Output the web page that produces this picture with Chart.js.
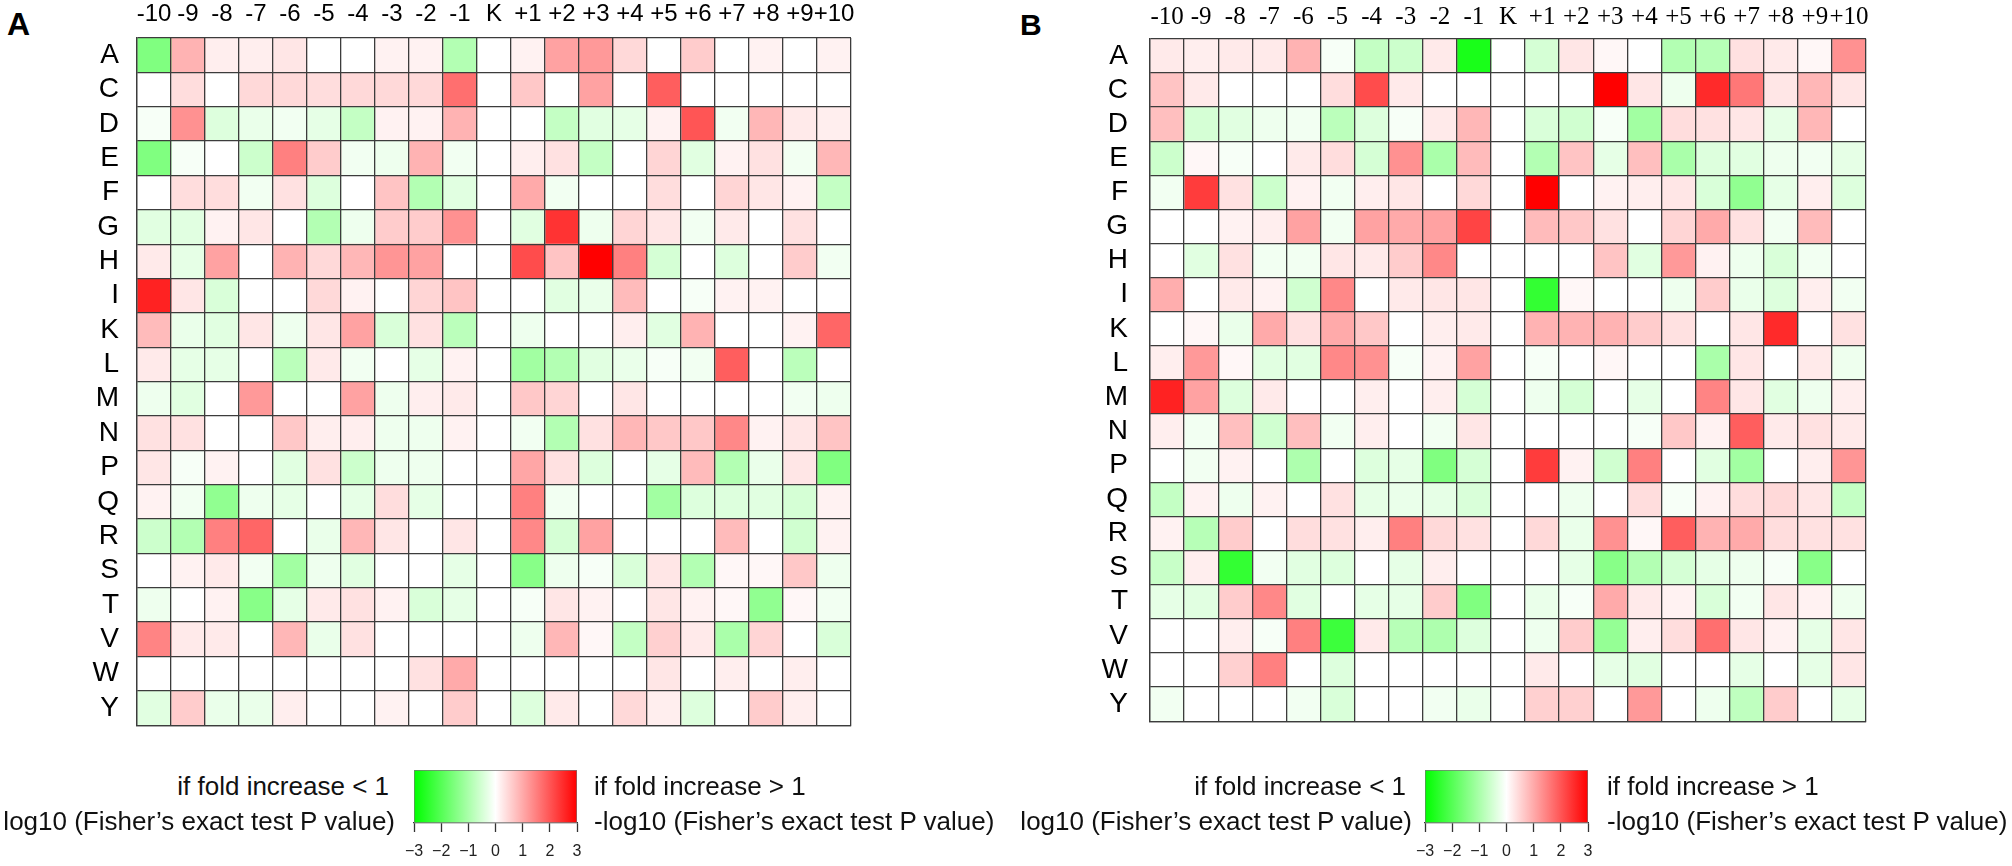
<!DOCTYPE html>
<html>
<head>
<meta charset="utf-8">
<title>Fisher's exact test heatmaps</title>
<script src="https://cdn.jsdelivr.net/npm/chart.js@4.4.1/dist/chart.umd.min.js"></script>
<style>
  body { margin: 0; width: 2012px; height: 866px; background: #fff; position: relative; overflow: hidden;
         font-family: "Liberation Sans", Arial, sans-serif; color: #111; }
  canvas, .txt, .panel { position: absolute; }
  .panel { font-weight: bold; color: #000; }
  .txt { font-size: 26px; line-height: 35px; white-space: nowrap; }
  .right { text-align: right; }
</style>
</head>
<body>
<div class="panel" style="left:7px;top:8px;font-size:32px;line-height:32px">A</div>
<div class="panel" style="left:1020px;top:10px;font-size:30px;line-height:30px">B</div>

<canvas id="heatA" width="1006" height="760" style="left:0;top:0"></canvas>
<canvas id="heatB" width="1006" height="760" style="left:1006px;top:0"></canvas>

<canvas id="barA" width="203" height="101" style="left:394px;top:769px"></canvas>
<canvas id="barB" width="203" height="101" style="left:1405px;top:769px"></canvas>

<div class="txt right" style="left:0;width:389px;top:769px">if fold increase &lt; 1</div>
<div class="txt right" style="left:0;width:395px;top:804px">log10 (Fisher’s exact test P value)</div>
<div class="txt" style="left:594px;top:769px">if fold increase &gt; 1</div>
<div class="txt" style="left:594px;top:804px">-log10 (Fisher’s exact test P value)</div>

<div class="txt right" style="left:1006px;width:400px;top:769px">if fold increase &lt; 1</div>
<div class="txt right" style="left:1006px;width:406px;top:804px">log10 (Fisher’s exact test P value)</div>
<div class="txt" style="left:1607px;top:769px">if fold increase &gt; 1</div>
<div class="txt" style="left:1607px;top:804px">-log10 (Fisher’s exact test P value)</div>

<script>
// positions around the central K, and the residues
const colLabels = ['-10', '-9', '-8', '-7', '-6', '-5', '-4', '-3', '-2', '-1', 'K',
                   '+1', '+2', '+3', '+4', '+5', '+6', '+7', '+8', '+9', '+10'];
const rowLabels = ['A', 'C', 'D', 'E', 'F', 'G', 'H', 'I', 'K', 'L',
                   'M', 'N', 'P', 'Q', 'R', 'S', 'T', 'V', 'W', 'Y'];
const legendTicks = [-3, -2, -1, 0, 1, 2, 3];

// signed log10 P (negative = depleted, positive = enriched), one row per residue
const valuesA = [
  [-1.5, 0.9, 0.2, 0.2, 0.3, 0, 0, 0.15, 0.15, -0.9, 0, 0.15, 1.1, 1.2, 0.45, 0, 0.6, 0, 0.15, 0, 0.15],           // A
  [0, 0.4, 0, 0.45, 0.45, 0.4, 0.45, 0.45, 0.45, 1.7, 0, 0.65, 0, 1.1, 0, 1.9, 0, 0, 0, 0, 0],                     // C
  [-0.1, 1.3, -0.4, -0.25, -0.15, -0.3, -0.7, 0.15, 0.15, 0.9, 0, 0, -0.7, -0.35, -0.3, 0.15, 2.0, -0.15, 0.85, 0.25, 0.2], // D
  [-1.5, -0.1, 0, -0.6, 1.5, 0.6, -0.15, -0.2, 0.9, -0.15, 0, 0.2, 0.35, -0.7, 0, 0.5, -0.35, 0.15, 0.35, -0.15, 0.85],   // E
  [0, 0.4, 0.4, -0.15, 0.35, -0.4, 0, 0.7, -0.9, -0.35, 0, 1.0, -0.15, 0, 0, 0.4, 0, 0.5, 0.3, 0.15, -0.7],        // F
  [-0.35, -0.35, 0.15, 0.3, 0, -0.9, -0.2, 0.6, 0.6, 1.3, 0, -0.35, 2.4, -0.2, 0.5, 0.3, -0.15, 0.25, 0, 0.35, 0], // G
  [0.25, -0.3, 1.1, 0, 0.9, 0.45, 0.85, 1.25, 1.1, 0, 0, 2.1, 0.7, 3.0, 1.5, -0.5, 0, -0.4, 0, 0.6, -0.15],         // H
  [2.6, 0.3, -0.45, 0, 0, 0.45, 0.15, 0, 0.5, 0.7, 0, 0, -0.35, -0.25, 0.8, 0, -0.1, 0.15, 0.15, 0, 0],            // I
  [0.8, -0.25, -0.35, 0.3, -0.2, 0.3, 1.1, -0.45, 0.35, -0.8, 0, -0.2, 0, 0, 0.2, -0.35, 0.9, 0, 0, 0.15, 1.8],     // K
  [0.25, -0.3, -0.3, 0, -0.8, 0.25, -0.15, 0, -0.3, 0.15, 0, -1.1, -0.9, -0.35, -0.25, -0.1, -0.15, 1.9, 0, -0.8, 0], // L
  [-0.2, -0.35, 0, 1.2, 0, 0, 1.1, -0.2, 0.2, 0.25, 0, 0.65, 0.5, 0, 0.3, 0, 0, 0, 0, -0.15, -0.2],               // M
  [0.35, 0.35, 0, 0, 0.65, 0.2, 0.2, -0.2, -0.2, 0.15, 0, -0.15, -0.9, 0.35, 0.85, 0.65, 0.65, 1.4, 0.15, 0.3, 0.7], // N
  [0.3, -0.1, 0.15, 0, -0.35, 0.35, -0.6, -0.2, -0.2, 0, 0, 1.05, 0.35, -0.4, 0, -0.3, 0.8, -0.9, -0.25, 0.3, -1.5], // P
  [0.15, -0.15, -1.3, -0.2, -0.3, 0, -0.3, 0.4, -0.3, 0, 0, 1.5, -0.15, 0, 0, -1.1, -0.4, -0.4, -0.35, -0.5, 0.15], // Q
  [-0.6, -0.9, 1.5, 1.8, 0, -0.25, 0.85, 0.3, 0, 0.3, 0, 1.4, -0.5, 1.1, 0, 0, 0, 0.8, 0, -0.55, 0.15],            // R
  [0, 0.15, 0.25, -0.15, -1.1, -0.2, -0.35, 0, 0, -0.3, 0, -1.4, -0.2, -0.1, -0.45, 0.3, -0.9, 0.1, 0.1, 0.65, -0.2], // S
  [-0.2, 0, 0.15, -1.4, -0.3, 0.25, 0.35, 0.15, -0.45, -0.3, 0, -0.1, 0.3, 0.15, 0, 0.3, 0.15, 0.1, -1.3, 0.1, -0.15], // T
  [1.45, 0.25, 0.25, 0, 0.85, -0.25, 0.35, 0, 0, 0, 0, -0.2, 0.85, 0.1, -0.7, 0.55, 0.25, -1.0, 0.5, 0, -0.45],     // V
  [0, 0, 0, 0, 0, 0, 0, 0, 0.35, 1.0, 0, 0, 0, 0, 0, 0.3, 0, 0.2, 0, 0.2, 0],                                     // W
  [-0.35, 0.6, -0.25, -0.25, 0.2, 0, 0, 0.15, 0, 0.6, 0, -0.4, 0.25, 0, 0.45, 0.2, -0.4, 0, 0.6, 0.2, 0]           // Y
];

const valuesB = [
  [0.25, 0.2, 0.25, 0.25, 0.9, -0.1, -0.7, -0.6, 0.25, -2.7, 0, -0.5, 0.3, 0.1, 0, -0.9, -0.85, 0.35, 0.25, 0.1, 1.3],  // A
  [0.7, 0.25, 0, 0, 0, 0.4, 2.1, 0.25, 0, 0, 0, 0, 0, 3.0, 0.3, -0.2, 2.5, 1.6, 0.3, 0.85, 0.3],                      // C
  [0.75, -0.5, -0.35, -0.2, -0.15, -0.8, -0.4, -0.1, 0.25, 0.85, 0, -0.45, -0.55, -0.1, -1.1, 0.4, 0.35, 0.3, -0.3, 0.85, 0], // D
  [-0.6, 0.1, -0.1, 0, 0.25, 0.4, -0.5, 1.3, -1.0, 0.8, 0, -0.9, 0.7, -0.3, 0.75, -1.0, -0.4, -0.35, -0.2, -0.15, -0.3], // E
  [-0.15, 2.3, 0.35, -0.6, 0.15, -0.15, 0.2, 0.3, 0, 0.45, 0, 3.0, 0, 0.15, 0.2, 0.3, -0.45, -1.3, -0.3, 0.2, -0.4],  // F
  [0, 0, 0.15, 0.2, 1.1, -0.15, 1.1, 1.0, 1.1, 2.2, 0, 0.8, 0.65, 0.35, 0, 0.5, 1.0, 0.35, -0.15, 0.8, 0],            // G
  [0, -0.35, 0.35, -0.15, -0.15, 0.3, 0.25, 0.6, 1.4, 0, 0, 0, 0, 0.7, -0.35, 1.2, 0.15, -0.2, -0.45, -0.15, 0],      // H
  [0.95, 0, 0.25, 0.15, -0.55, 1.4, 0, 0.25, 0.3, 0.3, 0, -2.4, 0.1, 0, 0, -0.2, 0.6, -0.25, -0.4, 0.2, -0.15],       // I
  [0, 0.1, -0.25, 1.0, 0.35, 1.0, 0.65, 0, 0.2, 0.25, 0, 0.9, 0.9, 0.9, 0.6, 0.35, 0, 0.3, 2.5, 0, 0.35],             // K
  [0.2, 1.2, 0.1, -0.35, -0.35, 1.4, 1.3, -0.1, 0.15, 1.1, 0, -0.1, 0, 0.1, 0, 0, -1.0, 0.3, 0, 0.25, -0.2],          // L
  [2.6, 1.1, -0.4, 0.25, 0, 0, 0.2, 0, 0.2, -0.5, 0, -0.2, -0.5, 0, -0.3, 0, 1.45, 0.3, -0.35, -0.2, 0.2],            // M
  [0.2, -0.15, 0.75, -0.55, 0.75, -0.15, 0.2, 0, -0.15, 0.3, 0, 0, 0, 0, -0.1, 0.65, 0.15, 1.9, 0.25, 0.35, 0.25],    // N
  [0, -0.15, 0.15, 0, -0.95, 0, -0.4, -0.3, -1.5, -0.5, 0, 2.3, 0.15, -0.55, 1.5, 0, -0.35, -1.1, 0, 0.2, 1.25],      // P
  [-0.7, 0.15, -0.2, 0.15, 0, 0.35, -0.3, -0.25, -0.3, -0.45, 0, 0, -0.2, 0, 0.4, -0.1, 0.15, 0.4, 0.45, 0.3, -0.7],  // Q
  [0.15, -0.85, 0.6, 0, 0.4, 0.35, 0.2, 1.5, 0.45, 0.35, 0, 0.45, -0.25, 1.3, 0.1, 1.9, 0.9, 1.0, 0.4, 0.35, 0.35],   // R
  [-0.65, 0.2, -2.4, -0.15, -0.35, -0.4, 0, -0.3, 0.2, 0, 0, 0, -0.3, -1.4, -0.9, -0.5, -0.3, -0.2, -0.1, -1.4, 0],   // S
  [-0.3, -0.35, 0.6, 1.4, -0.35, 0, -0.3, -0.3, 0.6, -1.5, 0, -0.25, -0.1, 1.0, 0.25, 0.15, -0.45, -0.15, 0.3, 0.15, -0.2], // T
  [0, 0, 0.2, -0.1, 1.5, -2.3, 0.25, -0.85, -0.95, -0.4, 0, -0.2, 0.6, -1.25, 0.2, 0.4, 1.7, 0.3, 0.15, -0.3, 0.3],   // V
  [0, 0, 0.55, 1.5, 0, -0.4, 0, 0, 0, 0, 0, 0.25, 0, -0.3, -0.35, 0, 0, -0.3, 0, -0.3, 0.3],                         // W
  [-0.15, 0, 0, 0, -0.15, -0.45, 0, 0, -0.15, -0.25, 0, 0.55, 0.55, 0, 1.2, 0, -0.2, -0.75, 0.6, 0, -0.3]             // Y
];

const SANS = '"Liberation Sans", Arial, sans-serif';
const SERIF = '"Liberation Serif", "Times New Roman", serif';
const LINE = '#3c3c3c';

// green (-3) -> white (0) -> red (+3)
function heatColor(v) {
  const t = Math.min(Math.abs(v) / 3, 1);
  const k = Math.round(255 * (1 - t));
  return v < 0 ? `rgb(${k},255,${k})` : `rgb(255,${k},${k})`;
}

function heatmap(id, values, geo) {
  const datasets = colLabels.map((col, c) => ({
    label: col,
    data: rowLabels.map(() => [c, c + 1]),
    backgroundColor: rowLabels.map((_, r) => heatColor(values[r][c])),
    borderWidth: 0,
    barPercentage: 1,
    categoryPercentage: 1,
    grouped: false,
    xAxisID: 'x',
    yAxisID: 'y'
  }));

  return new Chart(document.getElementById(id), {
    type: 'bar',
    data: { labels: rowLabels, datasets },
    options: {
      indexAxis: 'y',
      responsive: false,
      animation: false,
      layout: { padding: { left: 0, top: 0, right: geo.padRight, bottom: geo.padBottom } },
      plugins: { legend: { display: false }, tooltip: { enabled: false } },
      scales: {
        y: {
          type: 'category',
          offset: true,
          grid: { offset: true, color: LINE, lineWidth: 1.3, drawTicks: false, z: 1 },
          border: { color: LINE, width: 1.3, z: 1 },
          ticks: { autoSkip: false, padding: geo.rowPad, color: '#000', font: { family: SANS, size: 28 } },
          afterFit: s => { s.width = geo.left; }
        },
        x: {
          type: 'linear',
          min: 0,
          max: colLabels.length,
          ticks: { display: false, stepSize: 1 },
          grid: { color: LINE, lineWidth: 1.3, drawTicks: false, z: 1 },
          border: { color: LINE, width: 1.3, z: 1 },
          afterFit: s => { s.height = 0; }
        },
        top: {
          type: 'linear',
          position: 'top',
          min: 0,
          max: colLabels.length,
          grid: { display: false, drawTicks: false },
          border: { display: false },
          afterBuildTicks: s => { s.ticks = colLabels.map((_, i) => ({ value: i + 0.5 })); },
          ticks: {
            autoSkip: false, maxRotation: 0, padding: geo.colPad, color: '#000',
            font: geo.colFont,
            callback: (v, i) => colLabels[i]
          },
          afterFit: s => { s.height = geo.top; }
        }
      }
    }
  });
}

function colorbar(id) {
  const lo = legendTicks[0], hi = legendTicks[legendTicks.length - 1];
  return new Chart(document.getElementById(id), {
    type: 'bar',
    data: {
      labels: [''],
      datasets: [{
        data: [[lo, hi]],
        backgroundColor: ctx => {
          const area = ctx.chart.chartArea;
          if (!area) return '#fff';
          const g = ctx.chart.ctx.createLinearGradient(area.left, 0, area.right, 0);
          [lo, 0, hi].forEach(v => g.addColorStop((v - lo) / (hi - lo), heatColor(v)));
          return g;
        },
        borderColor: '#777',
        borderWidth: 1,
        borderSkipped: false,
        barPercentage: 1,
        categoryPercentage: 1
      }]
    },
    options: {
      indexAxis: 'y',
      responsive: false,
      animation: false,
      layout: { padding: { left: 20, right: 20, top: 1, bottom: 0 } },
      plugins: { legend: { display: false }, tooltip: { enabled: false } },
      scales: {
        y: { display: false },
        x: {
          type: 'linear',
          min: lo,
          max: hi,
          afterBuildTicks: s => { s.ticks = legendTicks.map(v => ({ value: v })); },
          grid: { drawOnChartArea: false, tickLength: 9, tickColor: '#333', tickWidth: 1.3 },
          border: { color: '#333', width: 1.3 },
          ticks: {
            padding: 10, color: '#222', font: { family: SANS, size: 16 },
            callback: v => v < 0 ? '\u2212' + (-v) : String(v)
          },
          afterFit: s => { s.height = 47; }
        }
      }
    }
  });
}

heatmap('heatA', valuesA, {
  left: 137, top: 38, padRight: 155, padBottom: 32, rowPad: 18, colPad: 9,
  colFont: { family: SANS, size: 24 }
});
heatmap('heatB', valuesB, {
  left: 144, top: 36, padRight: 146, padBottom: 18, rowPad: 22, colPad: 6,
  colFont: { family: SERIF, size: 25 }
});
colorbar('barA');
colorbar('barB');
</script>
</body>
</html>
